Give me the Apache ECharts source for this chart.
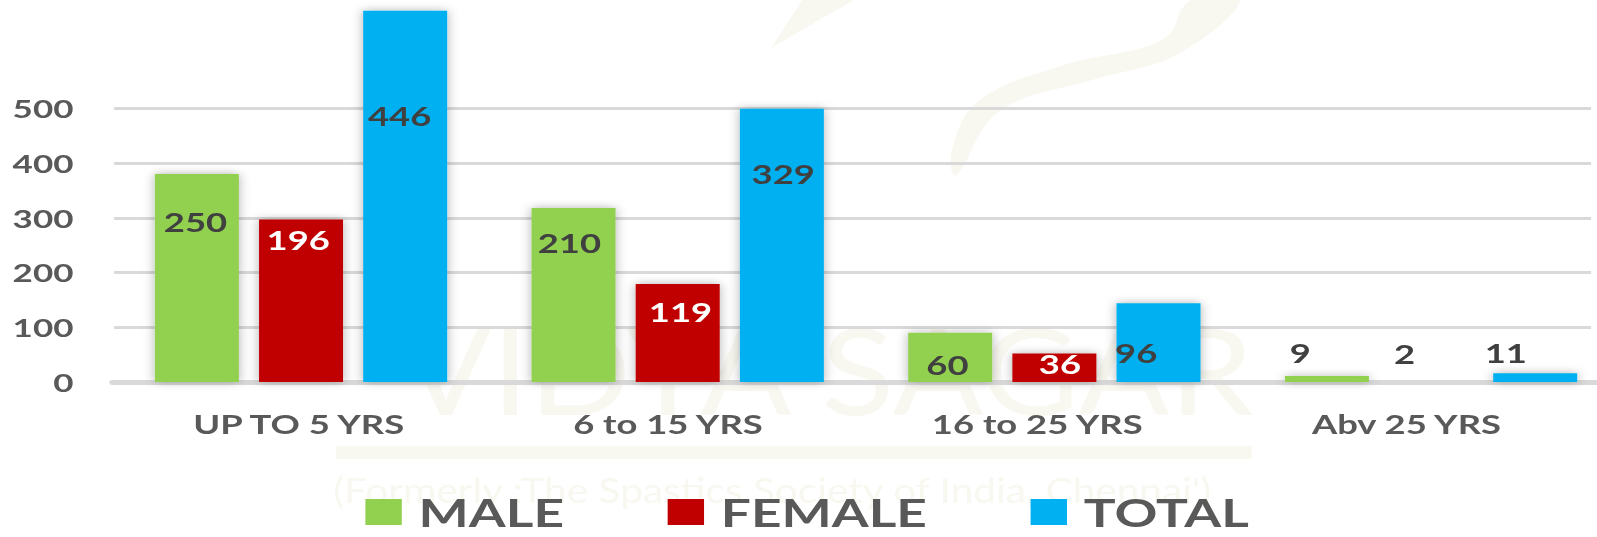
<!DOCTYPE html>
<html><head><meta charset="utf-8">
<script src="https://cdn.jsdelivr.net/npm/echarts@6/dist/echarts.min.js"></script>
<style>
html,body{margin:0;padding:0;background:#fff;overflow:hidden;}
#wrap{width:1597px;height:537px;overflow:hidden;position:relative;background:#fff;}
#chart{width:1141px;height:537px;transform:scaleX(1.4);transform-origin:0 0;}
</style></head><body>
<div id="wrap"><div id="chart"></div></div>
<script>
// ---- data ----
const categories = ['UP TO 5 YRS', '6 to 15 YRS', '16 to 25 YRS', 'Abv 25 YRS'];
const seriesNames = ['MALE', 'FEMALE', 'TOTAL'];
// bar heights as drawn in the picture
const maleValues = [380, 318, 90, 11];
const femaleValues = [297, 179, 52, 0];
const totalValues = [678, 499, 144, 16];
// printed data labels
const maleLabels = ['250', '210', '60', '9'];
const femaleLabels = ['196', '119', '36', '2'];
const totalLabels = ['446', '329', '96', '11'];
const yTicks = [0, 100, 200, 300, 400, 500];

// ---- style: label placement relative to each bar top (dx, dy) and colours ----
const maleLabelPos = [[-1, 48], [-3, 35], [-2, 32], [-19, -23]];
const femaleLabelPos = [[-2, 21], [2, 28], [4, 11], [-19, -28]];
const totalLabelPos = [[-4, 105], [1, 65], [-16, 50], [-21, -20]];
const DARK = '#404040';
const maleLabelColors = [DARK, DARK, DARK, DARK];
const femaleLabelColors = ['#FFFFFF', '#FFFFFF', '#FFFFFF', DARK];
const totalLabelColors = [DARK, DARK, DARK, DARK];

const COLORS = ['#92D050', '#C00000', '#00B0F0'];
const BAR_W = 60;
const FONT = 'Lato';

function buildSeries(idx, values, labels, pos, colors) {
  return {
    name: seriesNames[idx],
    type: 'bar',
    xAxisIndex: 1,
    yAxisIndex: 1,
    barWidth: BAR_W,
    barGap: '24%',
    clip: false,
    z: 3,
    itemStyle: { color: COLORS[idx], shadowColor: 'rgba(0,0,0,0.3)', shadowBlur: 8 },
    emphasis: { disabled: true },
    data: values.map((v, i) => ({
      value: v,
      label: {
        show: true,
        formatter: labels[i],
        position: [BAR_W / 2 + pos[i][0], pos[i][1]],
        align: 'center',
        verticalAlign: 'middle',
        color: colors[i],
        fontFamily: FONT,
        fontWeight: 'bold',
        fontSize: 26
      }
    }))
  };
}

const WM = '#f8f7f0';
const chart = echarts.init(document.getElementById('chart'), null, { renderer: 'svg' });
chart.setOption({
  animation: false,
  backgroundColor: '#ffffff',
  graphic: [
    { type: 'polygon', z: -10, silent: true,
      shape: { smooth: 0.4, points: [[886, 0], [840, 55], [780, 80], [715, 110], [683, 175], [680, 150], [700, 100], [760, 65], [830, 40], [851, 0]] },
      style: { fill: WM } },
    { type: 'polygon', z: -10, silent: true,
      shape: { points: [[573, 0], [610, 0], [580, 24], [551, 48]] },
      style: { fill: WM } },
    { type: 'text', z: -10, silent: true, x: 286, y: 308, scaleY: 1.25,
      style: { text: 'VIDYA SAGAR', font: 'normal 96px Lato', fill: WM } },
    { type: 'rect', z: -10, silent: true, shape: { x: 240, y: 446, width: 654, height: 13 },
      style: { fill: WM } },
    { type: 'text', z: -10, silent: true, x: 238, y: 472, scaleY: 1.2,
      style: { text: "(Formerly :The Spastics Society of India, Chennai')", font: 'normal 29px Lato', fill: WM } }
  ],
  legend: {
    data: seriesNames,
    left: 261,
    top: 488,
    padding: 0,
    icon: 'rect',
    itemWidth: 26,
    itemHeight: 26,
    itemGap: 74,
    itemStyle: { shadowBlur: 0, shadowColor: 'transparent' },
    textStyle: { fontFamily: FONT, fontWeight: 'bold', fontSize: 38, lineHeight: 28, color: '#595959', padding: [0, 0, 20, 7] }
  },
  grid: [
    { left: 81.5, right: 4.5, top: 108.3, bottom: 155, outerBoundsMode: 'none' },
    { left: 80.5, width: 1076.2, top: 108.3, bottom: 155, outerBoundsMode: 'none' }
  ],
  xAxis: [
    { gridIndex: 0, type: 'category', data: categories,
      axisLine: { show: true, lineStyle: { color: '#D9D9D9', width: 5 } },
      axisTick: { show: false },
      axisLabel: { color: '#595959', fontFamily: FONT, fontWeight: 'bold', fontSize: 26, margin: 29 } },
    { gridIndex: 1, type: 'category', data: categories,
      axisLine: { show: true, lineStyle: { color: '#D9D9D9', width: 5 } },
      axisTick: { show: false }, axisLabel: { show: false } }
  ],
  yAxis: [
    { gridIndex: 0, type: 'value', min: yTicks[0], max: yTicks[yTicks.length - 1], interval: 100,
      axisLine: { show: false }, axisTick: { show: false },
      axisLabel: { color: '#595959', fontFamily: FONT, fontWeight: 'bold', fontSize: 25, margin: 29 },
      splitLine: { lineStyle: { color: '#D9D9D9', width: 3 } } },
    { gridIndex: 1, type: 'value', min: yTicks[0], max: yTicks[yTicks.length - 1], interval: 100,
      show: false, splitLine: { show: false } }
  ],
  series: [
    buildSeries(0, maleValues, maleLabels, maleLabelPos, maleLabelColors),
    buildSeries(1, femaleValues, femaleLabels, femaleLabelPos, femaleLabelColors),
    buildSeries(2, totalValues, totalLabels, totalLabelPos, totalLabelColors)
  ]
});
</script>
</body></html>
